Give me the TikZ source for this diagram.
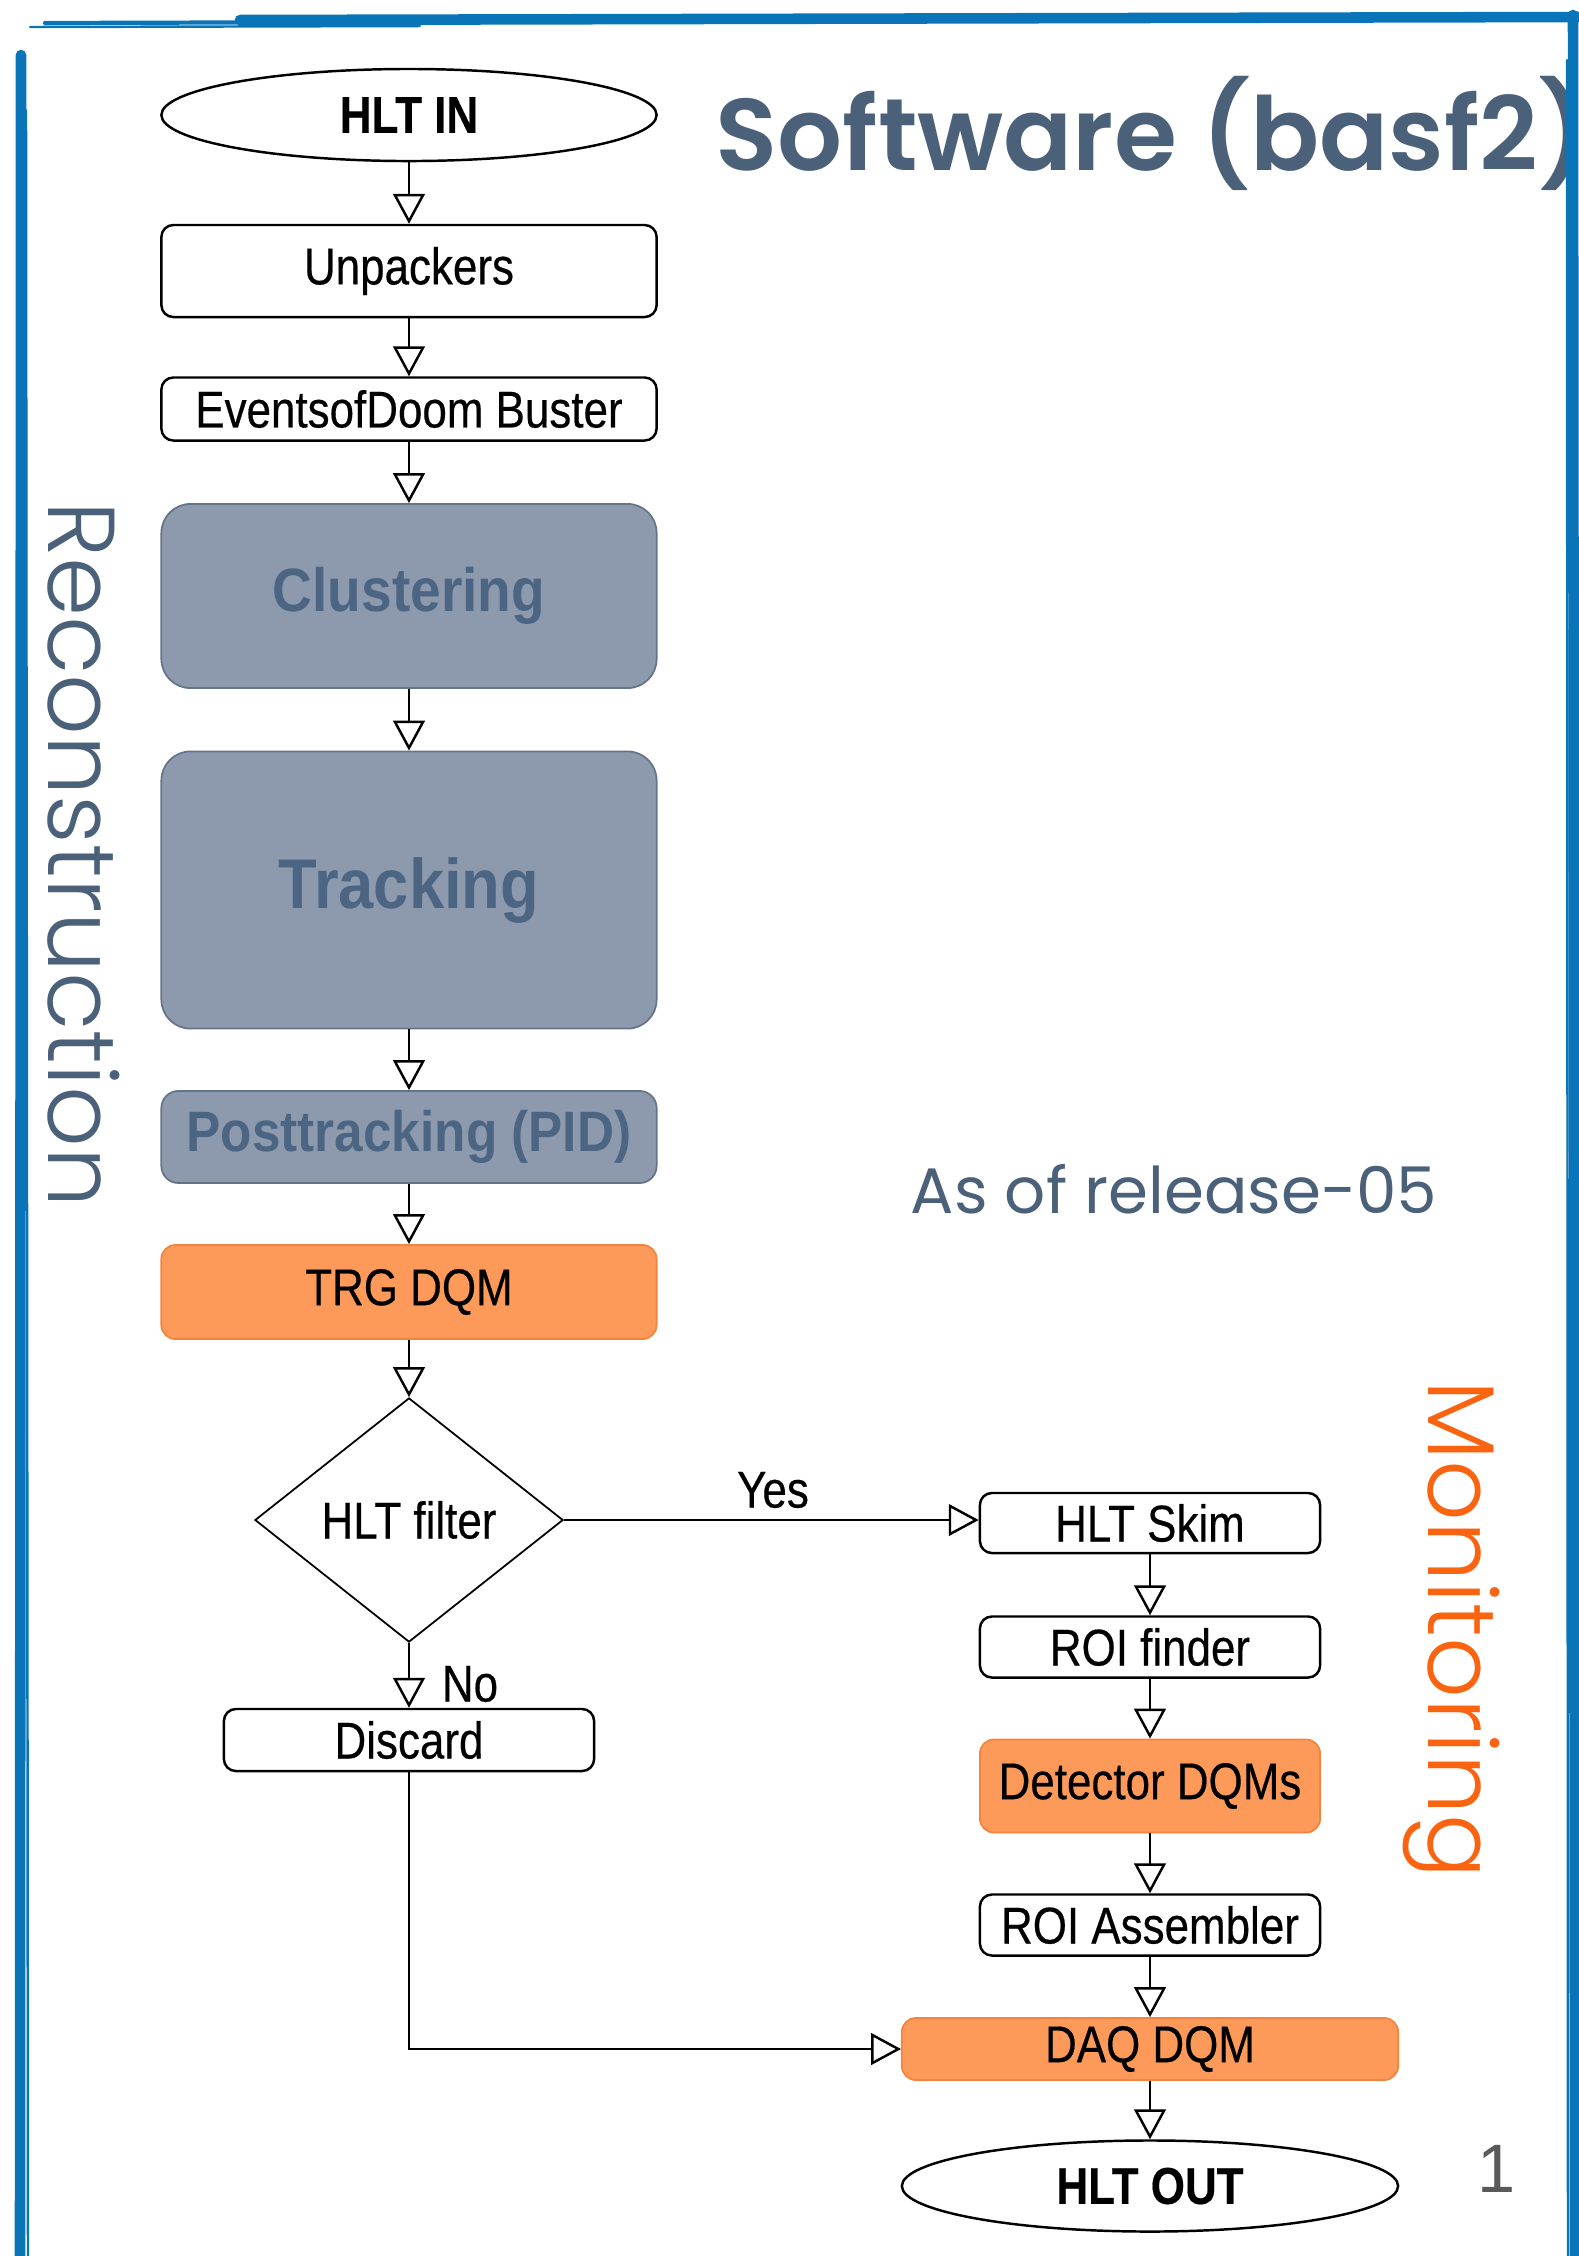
\documentclass[tikz,border=0pt]{standalone}
\usepackage{fontspec}
\setmainfont{Liberation Sans}
\newfontfamily\chartfont[FakeStretch=0.85, FakeBold=0.35]{Liberation Sans}
\newfontfamily\recofont[FakeStretch=0.9]{Liberation Sans}
\newfontfamily\slidefont{Poppins}
\newfontfamily\slidelight{Poppins Light}
\newfontfamily\slidesemi{Poppins SemiBold}
\usetikzlibrary{shapes.geometric,arrows.meta}

\definecolor{slate}{HTML}{4A6179}
\definecolor{recofill}{HTML}{8D9AAE}
\definecolor{recotext}{HTML}{4C6582}
\definecolor{recoline}{HTML}{66748A}
\definecolor{dqmfill}{HTML}{FD9A5A}
\definecolor{dqmline}{HTML}{F2843E}
\definecolor{monorange}{HTML}{FA6410}
\definecolor{frameblue}{HTML}{0A74B9}
\definecolor{pagegray}{HTML}{5A5A5A}

\tikzset{
	chart/.style={font=\chartfont\fontsize{14.7}{17}\selectfont},
	box/.style={chart, draw=black, line width=0.7pt, fill=white, rounded corners=0.12cm, minimum width=4.95cm},
	rbox/.style={box, minimum width=3.40cm},
	recobox/.style={draw=recoline, line width=0.5pt, fill=recofill, text=recotext, minimum width=4.95cm, rounded corners=0.29cm},
	dqmbox/.style={chart, draw=dqmline, line width=0.5pt, fill=dqmfill, rounded corners=0.14cm},
	term/.style={chart, ellipse, draw=black, line width=0.7pt, minimum width=4.95cm, minimum height=0.92cm},
	flow/.style={line width=0.7pt, -{Triangle[open, length=8.5pt, width=9pt]}},
	frame/.style={draw=frameblue, line width=3pt, line cap=round},
}

\begin{document}
\begin{tikzpicture}[x=0.01cm, y=-0.01cm]
	\tikzstyle{every node}+=[inner sep=0pt]
	\useasboundingbox (0,0) rectangle (1579,2256);
	% reconstruction column
	\draw (409,115) node[term, font=\chartfont\bfseries\fontsize{14.7}{17}\selectfont] (hltin) {HLT IN};
	\draw (409,271) node[box, minimum height=0.92cm] (unpack) {Unpackers};
	\draw (409,409) node[box, minimum height=0.63cm] (eod) {EventsofDoom Buster};
	\draw (409,596) node[recobox, minimum height=1.84cm, font=\recofont\bfseries\fontsize{17.4}{20}\selectfont] (clus) {Clustering};
	\draw (409,890) node[recobox, minimum height=2.77cm, font=\recofont\bfseries\fontsize{20}{24}\selectfont] (track) {Tracking};
	\draw (409,1137) node[recobox, minimum height=0.92cm, rounded corners=0.17cm, font=\recofont\bfseries\fontsize{16.2}{19}\selectfont] (post) {Posttracking (PID)};
	\draw (409,1292) node[dqmbox, minimum width=4.95cm, minimum height=0.94cm] (trg) {TRG DQM};
	\draw (409,1520) node[chart, diamond, draw=black, line width=0.5pt, minimum width=3.08cm, minimum height=2.44cm] (filter) {HLT filter};
	\draw (409,1740) node[box, minimum width=3.70cm, minimum height=0.62cm] (discard) {Discard};
	% monitoring column
	\draw (1150,1523) node[rbox, minimum height=0.60cm] (skim) {HLT Skim};
	\draw (1150,1647) node[rbox, minimum height=0.61cm] (roif) {ROI finder};
	\draw (1150,1786) node[dqmbox, minimum width=3.40cm, minimum height=0.93cm] (det) {Detector DQMs};
	\draw (1150,1925) node[rbox, minimum height=0.61cm] (roia) {ROI Assembler};
	\draw (1150,2049) node[dqmbox, minimum width=4.96cm, minimum height=0.62cm] (daq) {DAQ DQM};
	\draw (1150,2186) node[term, minimum width=4.96cm, minimum height=0.91cm, font=\chartfont\bfseries\fontsize{14.7}{17}\selectfont] (hltout) {HLT OUT};
	% connectors
	\draw [flow] (hltin) -- (unpack);
	\draw [flow] (unpack) -- (eod);
	\draw [flow] (eod) -- (clus);
	\draw [flow] (clus) -- (track);
	\draw [flow] (track) -- (post);
	\draw [flow] (post) -- (trg);
	\draw [flow] (trg) -- (filter);
	\draw [flow] (filter) -- (discard);
	\draw [flow] (filter.east) -- (filter.east -| skim.west);
	\draw [flow] (skim) -- (roif);
	\draw [flow] (roif) -- (det);
	\draw [flow] (det) -- (roia);
	\draw [flow] (roia) -- (daq);
	\draw [flow] (daq) -- (hltout);
	\draw [flow] (discard.south) |- (daq.west);
	\draw (773,1490) node[chart] (yes) {Yes};
	\draw (470,1684) node[chart] (no) {No};
	% slide texts
	\draw (715,170) node[anchor=base west, text=slate, font=\slidesemi\fontsize{29}{34}\selectfont] (title) {Software (basf2)};
	\draw (910,1213) node[anchor=base west, text=slate, font=\slidefont\fontsize{18.3}{22}\selectfont] (release) {As of release-05};
	\draw (48,501) node[anchor=base west, rotate=-90, text=slate, font=\slidelight\fontsize{27}{32}\selectfont] (reco) {Reconstruction};
	\draw (1428,1380) node[anchor=base west, rotate=-90, text=monorange, font=\slidelight\fontsize{27}{32}\selectfont] (moni) {Monitoring};
	\draw (1497,2192) node[anchor=base, text=pagegray, font=\fontsize{19.5}{23}\selectfont] (page) {1};
	% hand drawn frame
	\draw [frame] (240,20) -- (1579,17);
	\draw [frame, line width=1.2pt] (45,23) -- (760,21);
	\draw [frame, line width=0.7pt] (30,27) -- (420,26);
	\draw [frame] (21,55) -- (20,2256);
	\draw [frame, line width=0.7pt] (26,110) -- (28,2256);
	\draw [frame] (1573,15) -- (1575,2256);
	\draw [frame, line width=0.7pt] (1567,60) -- (1568,2256);
\end{tikzpicture}
\end{document}
